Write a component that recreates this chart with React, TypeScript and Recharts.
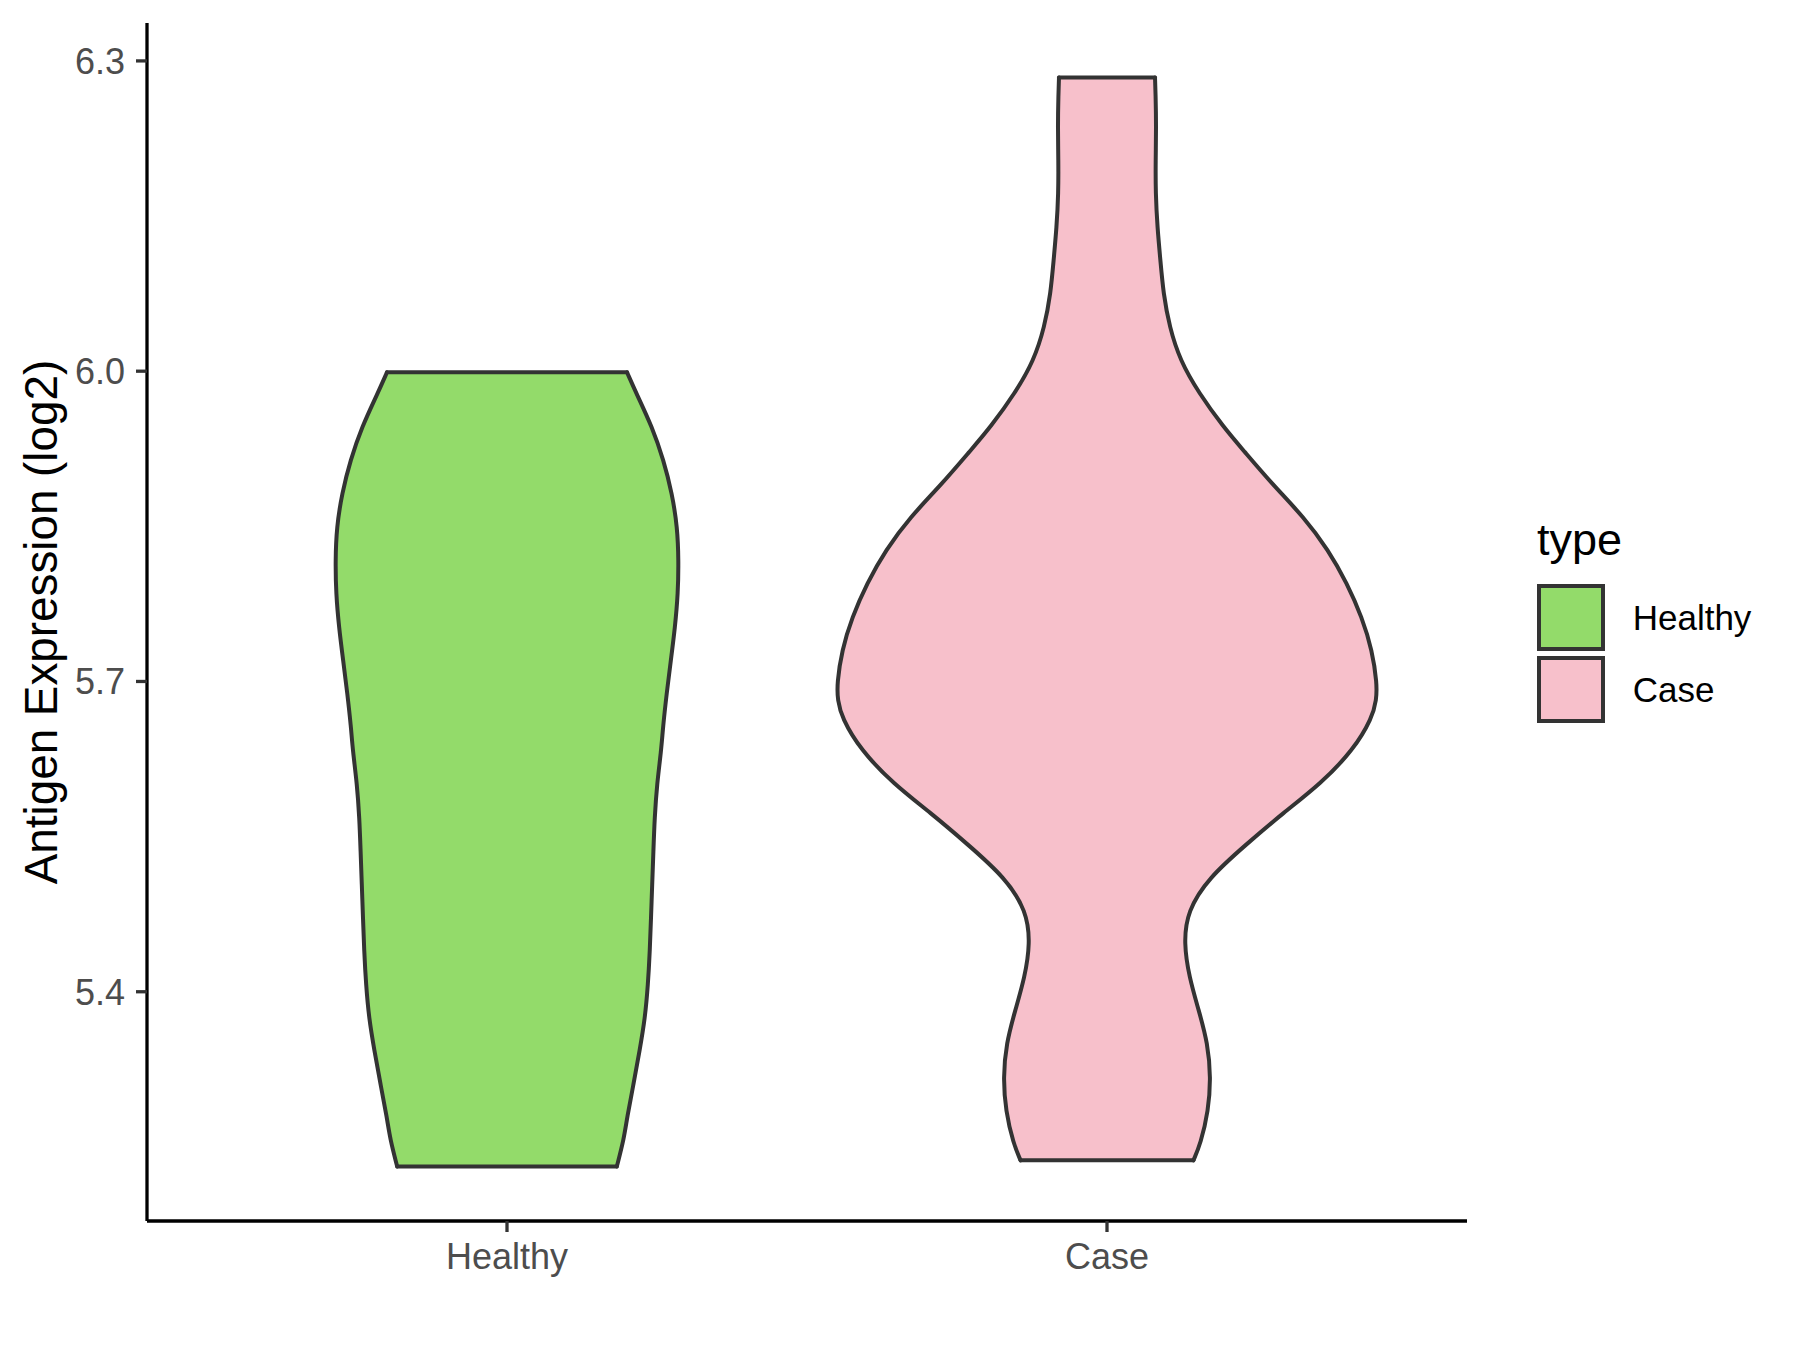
import React from "react";
import { ComposedChart, Area, XAxis, YAxis, ReferenceLine, Legend } from "recharts";

const categories = ["Healthy", "Case"];
const colors = ["#93DB6A", "#F7C0CB"];
const yTicks = [5.4, 5.7, 6.0, 6.3];

// violin outlines: expression level (log2) and half width in category units
const healthyLevels = [
  5.231, 5.258, 5.278, 5.311, 5.343, 5.374, 5.407, 5.439, 5.471, 5.504, 5.536, 5.568, 5.601,
  5.633, 5.656, 5.688, 5.72, 5.752, 5.785, 5.817, 5.849, 5.882, 5.914, 5.946, 5.978, 5.999,
];
const healthyHalfWidths = [
  0.183, 0.195, 0.2, 0.211, 0.221, 0.23, 0.235, 0.238, 0.24, 0.242, 0.244, 0.246, 0.25,
  0.257, 0.26, 0.266, 0.273, 0.28, 0.285, 0.286, 0.284, 0.275, 0.261, 0.242, 0.216, 0.2,
];

const caseLevels = [
  5.237, 5.253, 5.285, 5.317, 5.35, 5.382, 5.414, 5.447, 5.478, 5.51, 5.543, 5.573, 5.601,
  5.634, 5.665, 5.682, 5.698, 5.73, 5.762, 5.795, 5.827, 5.859, 5.891, 5.923, 5.946, 5.979,
  6.01, 6.043, 6.075, 6.107, 6.139, 6.172, 6.204, 6.236, 6.268, 6.284,
];
const caseHalfWidths = [
  0.144, 0.156, 0.169, 0.173, 0.168, 0.153, 0.137, 0.128, 0.134, 0.169, 0.233, 0.294, 0.356,
  0.411, 0.442, 0.449, 0.45, 0.442, 0.425, 0.4, 0.369, 0.328, 0.275, 0.228, 0.194, 0.153,
  0.122, 0.104, 0.094, 0.089, 0.084, 0.081, 0.081, 0.082, 0.081, 0.08,
];

const FONT = '"Liberation Sans", Arial, Helvetica, sans-serif';
const OUTLINE = "#333333";
const AXIS_W = 3.3;
const OUTLINE_W = 4;

type ViolinPoint = { y: number; x: [number, number] };

const buildViolin = (levels: number[], halfWidths: number[], pos: number): ViolinPoint[] =>
  levels.map((y, i) => ({ y, x: [pos - halfWidths[i], pos + halfWidths[i]] }));

const violins = [
  buildViolin(healthyLevels, healthyHalfWidths, 1),
  buildViolin(caseLevels, caseHalfWidths, 2),
];

// ggplot style 5% expansion on the value axis
const allLevels = [...healthyLevels, ...caseLevels];
const lo = Math.min(...allLevels);
const hi = Math.max(...allLevels);
const pad = (hi - lo) * 0.05;
const yDomain: [number, number] = [lo - pad, hi + pad];

const renderYTitle = (props: any) => {
  const { x, y, height } = props.viewBox;
  const cx = x + 57;
  const cy = y + height / 2;
  return (
    <text
      x={cx}
      y={cy}
      transform={`rotate(-90 ${cx} ${cy})`}
      textAnchor="middle"
      fontSize={45.8}
      fill="#000000"
      fontFamily={FONT}
    >
      Antigen Expression (log2)
    </text>
  );
};

const TypeLegend = () => (
  <svg width={280} height={240} style={{ display: "block", fontFamily: FONT }}>
    <text x={17} y={55} fontSize={45} fill="#000000">
      type
    </text>
    {categories.map((name, i) => (
      <g key={name}>
        <rect
          x={19}
          y={86}
          width={64}
          height={63}
          transform={`translate(0 ${i * 72})`}
          fill={colors[i]}
          stroke={OUTLINE}
          strokeWidth={OUTLINE_W}
        />
        <text x={112.7} y={117.5 + i * 72} dominantBaseline="central" fontSize={35} fill="#000000">
          {name}
        </text>
      </g>
    ))}
  </svg>
);

const App: React.FC = () => {
  return (
    <div style={{ position: "absolute", left: 0, top: 0, background: "#ffffff" }}>
      <ComposedChart
        layout="vertical"
        width={1800}
        height={1350}
        margin={{ top: 23, right: 333, bottom: 0, left: 0 }}
        style={{ fontFamily: FONT }}
      >
        <XAxis
          type="number"
          domain={[0.4, 2.6]}
          ticks={[1, 2]}
          tickFormatter={(v: number) => categories[v - 1]}
          allowDataOverflow
          height={129}
          axisLine={{ stroke: "#000000", strokeWidth: AXIS_W }}
          tickLine={{ stroke: OUTLINE, strokeWidth: AXIS_W }}
          tickSize={11}
          tickMargin={11}
          tick={{ fill: "#4D4D4D", fontSize: 36, fontFamily: FONT }}
        />
        <YAxis
          type="number"
          dataKey="y"
          domain={yDomain}
          ticks={yTicks}
          tickFormatter={(v: number) => v.toFixed(1)}
          allowDataOverflow
          reversed
          width={147}
          axisLine={{ stroke: "#000000", strokeWidth: AXIS_W }}
          tickLine={{ stroke: OUTLINE, strokeWidth: AXIS_W }}
          tickSize={11}
          tickMargin={11}
          tick={{ fill: "#4D4D4D", fontSize: 36, fontFamily: FONT }}
          label={renderYTitle}
        />
        {violins.map((data, i) => (
          <Area
            key={categories[i]}
            name={categories[i]}
            data={data}
            dataKey="x"
            type="basis"
            fill={colors[i]}
            fillOpacity={1}
            stroke={OUTLINE}
            strokeWidth={OUTLINE_W}
            strokeLinecap="round"
            dot={false}
            activeDot={false}
            isAnimationActive={false}
          />
        ))}
        {violins.map((data, i) => {
          const first = data[0];
          const last = data[data.length - 1];
          return [first, last].map((p, j) => (
            <ReferenceLine
              key={`${categories[i]}-${j}`}
              segment={[
                { x: p.x[0], y: p.y },
                { x: p.x[1], y: p.y },
              ]}
              stroke={OUTLINE}
              strokeWidth={OUTLINE_W}
              strokeLinecap="round"
            />
          ));
        })}
        <Legend
          layout="horizontal"
          align="center"
          verticalAlign="middle"
          wrapperStyle={{ left: 1520, top: 500, width: 280, height: 240 }}
          content={<TypeLegend />}
        />
      </ComposedChart>
    </div>
  );
};

export default App;
